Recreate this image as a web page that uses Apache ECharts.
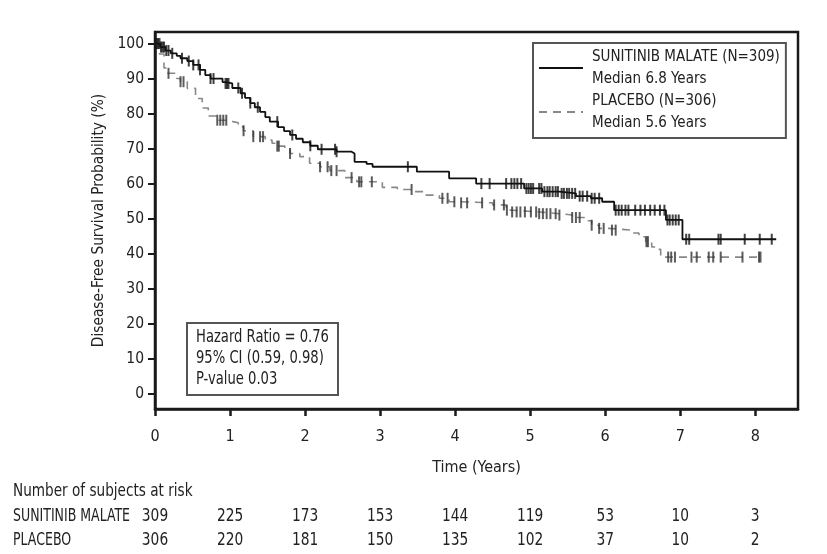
<!DOCTYPE html>
<html><head><meta charset="utf-8">
<script src="https://cdn.jsdelivr.net/npm/echarts@6/dist/echarts.min.js"></script>
<style>html,body{margin:0;padding:0;background:#fff}#c{width:827px;height:554px}</style>
</head><body><div id="c"></div>
<script>
// Kaplan-Meier change points (time in years, survival %)
var sunTimes = [0,0.07,0.14,0.21,0.29,0.34,0.43,0.51,0.60,0.67,0.74,0.90,0.94,1.03,1.14,1.20,1.27,1.33,1.40,1.47,1.53,1.64,1.72,1.80,1.88,1.97,2.07,2.17,2.42,2.62,2.66,2.82,2.90,3.49,3.92,4.28,4.92,5.16,5.39,5.61,5.81,5.96,6.12,6.81,7.03,8.28];
var sunSurv  = [100,99,98,97.2,96.5,95.8,95,93.9,92.5,91,90,89,88.6,87.3,85.8,84.5,83,81.8,80.5,79,77.7,76.1,75,73.9,72.8,71.8,70.8,69.8,69.1,68.6,66.2,65.6,64.8,63.4,61.5,60.0,58.6,57.7,57.2,56.4,55.8,54.8,52.4,49.6,44.1,44.1];
var plaTimes = [0,0.06,0.12,0.16,0.29,0.34,0.43,0.54,0.63,0.71,0.83,0.98,1.04,1.11,1.18,1.31,1.47,1.56,1.63,1.73,1.80,1.93,2.06,2.20,2.33,2.53,2.69,3.03,3.23,3.43,3.59,3.79,3.92,4.06,4.50,4.68,4.76,5.12,5.39,5.56,5.72,5.82,5.92,6.05,6.36,6.45,6.54,6.62,6.71,6.74,8.07];
var plaSurv  = [100,97,93,91.5,90,89.1,87.2,84.3,81.6,79.3,78.1,77.7,77.4,76.2,75.1,73.4,72.4,71.5,70.7,69.8,68.6,67.7,65.8,64.8,63.7,61.7,60.5,58.9,58.3,57.7,56.7,55.8,54.8,54.5,53.9,52.4,51.9,51.4,51.0,50.3,49.4,48.1,47.2,46.7,45.9,44.8,43.4,41.9,41.2,39.0,39.0];
// censoring times
var sunCensor = [0.02,0.04,0.06,0.08,0.10,0.12,0.15,0.18,0.23,0.36,0.45,0.51,0.58,0.60,0.74,0.78,0.94,0.96,0.98,1.11,1.16,1.27,1.37,1.63,1.83,2.07,2.22,2.40,2.42,3.37,4.35,4.46,4.68,4.75,4.79,4.83,4.88,4.95,4.98,5.01,5.04,5.12,5.15,5.19,5.23,5.26,5.30,5.34,5.37,5.42,5.45,5.49,5.52,5.56,5.60,5.66,5.70,5.76,5.82,5.86,5.92,6.14,6.18,6.22,6.27,6.31,6.40,6.47,6.53,6.60,6.66,6.73,6.79,6.83,6.86,6.90,6.94,6.98,7.08,7.12,7.51,7.54,7.86,8.06,8.22];
var plaCensor = [0.18,0.34,0.38,0.83,0.87,0.91,0.95,1.18,1.31,1.40,1.44,1.63,1.65,1.80,2.20,2.30,2.35,2.42,2.62,2.72,2.75,2.89,3.42,3.83,3.90,3.99,4.08,4.16,4.36,4.52,4.65,4.69,4.76,4.82,4.87,4.93,5.01,5.08,5.12,5.17,5.22,5.27,5.34,5.39,5.56,5.61,5.66,5.82,5.92,5.98,6.09,6.14,6.55,6.57,6.84,6.88,6.93,7.15,7.22,7.38,7.44,7.54,7.83,8.05,8.07];
// risk table
var riskTimes = [0,1,2,3,4,5,6,7,8];
var riskSun = [309,225,173,153,144,119,53,10,3];
var riskPla = [306,220,181,150,135,102,37,10,2];
var xTicks = [0,1,2,3,4,5,6,7,8];
var yTicks = [0,10,20,30,40,50,60,70,80,90,100];
var sunName = 'SUNITINIB MALATE (N=309)\nMedian 6.8 Years';
var plaName = 'PLACEBO (N=306)\nMedian 5.6 Years';

var FONT = '"Liberation Sans Narrow","DejaVu Sans Condensed","Roboto Condensed","Arial Narrow",Roboto,sans-serif';
function zip(t,s){return t.map(function(v,i){return [v,s[i]];});}
function survAt(t, times, surv){var v=surv[0];for(var i=0;i<times.length;i++){if(times[i]<=t)v=surv[i];}return v;}
function censorPts(c,times,surv){return c.map(function(t){return [t,survAt(t,times,surv)];});}

var chart = echarts.init(document.getElementById('c'));
chart.setOption({
  animation:false,
  backgroundColor:'#fff',
  textStyle:{fontFamily:FONT},
  grid:{left:155,right:29,top:32,bottom:145,show:true,borderColor:'#1a1a1a',borderWidth:2.5,containLabel:false},
  xAxis:{type:'value',min:0,max:8.57,
    name:'Time (Years)',nameLocation:'middle',nameGap:51,
    nameTextStyle:{fontFamily:FONT,fontSize:16,color:'#222'},
    axisLine:{show:true,onZero:false,lineStyle:{color:'#1a1a1a',width:2.5}},
    axisTick:{show:true,customValues:xTicks,length:7,lineStyle:{color:'#1a1a1a',width:2.5}},
    axisLabel:{customValues:xTicks,fontFamily:FONT,fontSize:16,color:'#222',margin:20},
    splitLine:{show:false}},
  yAxis:{type:'value',min:-4.4,max:103.3,
    name:'Disease-Free Survival Probability (%)',nameLocation:'middle',nameGap:41,nameRotate:90,
    nameTextStyle:{fontFamily:FONT,fontSize:15.3,color:'#222'},
    axisLine:{show:true,onZero:false,lineStyle:{color:'#1a1a1a',width:2.5}},
    axisTick:{show:true,customValues:yTicks,length:7,lineStyle:{color:'#1a1a1a',width:2}},
    axisLabel:{customValues:yTicks,fontFamily:FONT,fontSize:15.5,color:'#222',margin:11},
    splitLine:{show:false}},
  legend:{show:true,orient:'vertical',left:533,top:43,
    data:[sunName,plaName],
    itemWidth:44,itemHeight:10,itemGap:0,
    padding:[3,6,4,5],
    borderColor:'#555',borderWidth:2,
    itemStyle:{opacity:0},
    textStyle:{fontFamily:FONT,fontSize:15,color:'#222',lineHeight:22,padding:[0,0,0,4]}},
  series:[
    {name:sunName,type:'line',step:'end',data:zip(sunTimes,sunSurv),showSymbol:false,symbol:'none',
      lineStyle:{color:'#111',width:1.8},itemStyle:{color:'#111'},z:3},
    {name:plaName,type:'line',step:'end',data:zip(plaTimes,plaSurv),showSymbol:false,symbol:'none',
      lineStyle:{color:'#888',width:1.6,type:[8,6]},itemStyle:{color:'#888'},z:2},
    {name:'sunCensor',type:'scatter',data:censorPts(sunCensor,sunTimes,sunSurv),symbol:'rect',symbolSize:[2,11],
      itemStyle:{color:'#111'},z:4,silent:true},
    {name:'plaCensor',type:'scatter',data:censorPts(plaCensor,plaTimes,plaSurv),symbol:'rect',symbolSize:[2,11],
      itemStyle:{color:'#333'},z:4,silent:true}
  ]
});

// risk table and annotation
var g = [];
function txt(s,x,y,align,sx,z){
  return {type:'text',x:x,y:y,scaleX:sx,z:z||5,style:{text:s,font:'17px '+FONT,fill:'#222',textAlign:align||'left',textVerticalAlign:'middle'}};
}
g.push({type:'rect',shape:{x:187,y:323,width:151,height:72},style:{fill:'#fff',stroke:'#555',lineWidth:2},z:10});
var hr = ['Hazard Ratio = 0.76','95% CI (0.59, 0.98)','P-value 0.03'];
hr.forEach(function(s,i){g.push(txt(s,196,338+i*21,'left',0.86,11));});
g.push(txt('Number of subjects at risk',13,492,'left',0.89));
g.push(txt('SUNITINIB MALATE',13,517,'left',0.82));
g.push(txt('PLACEBO',13,541,'left',0.82));
riskTimes.forEach(function(t,i){
  var px = chart.convertToPixel({xAxisIndex:0},t);
  g.push(txt(String(riskSun[i]),px,517,'center',0.9));
  g.push(txt(String(riskPla[i]),px,541,'center',0.9));
});
chart.setOption({graphic:g});
</script></body></html>
